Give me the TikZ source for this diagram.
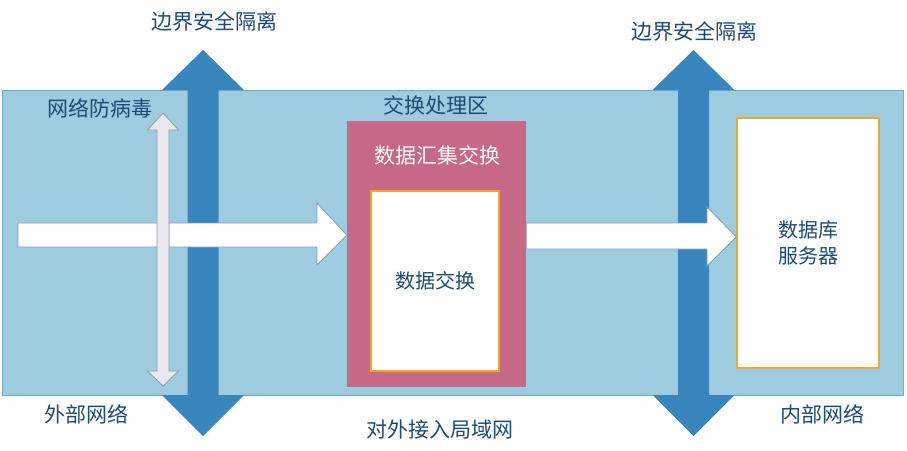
\documentclass[tikz,border=0pt]{standalone}
\usepackage{fontspec}
\setmainfont{Noto Sans CJK SC}
\usepackage{tikz}
\usetikzlibrary{positioning,calc}

\definecolor{zoneblue}{RGB}{157,203,223}
\definecolor{zoneline}{RGB}{118,168,195}
\definecolor{wallblue}{RGB}{56,134,189}
\definecolor{hubpink}{RGB}{199,104,134}
\definecolor{boxorange}{RGB}{240,166,40}
\definecolor{avgray}{RGB}{232,232,238}
\definecolor{avline}{RGB}{150,152,168}
\definecolor{flowline}{RGB}{138,154,176}
\definecolor{txtblue}{RGB}{30,74,120}

\begin{document}
\begin{tikzpicture}[x=1pt,y=-1pt,
lbl/.style={text=txtblue,font=\fontsize{21}{25}\selectfont,inner sep=0pt},
zone/.style={rectangle,fill=zoneblue,draw=zoneline,line width=0.8pt,inner sep=0pt},
hub/.style={rectangle,fill=hubpink,draw=none,inner sep=0pt},
box/.style={rectangle,fill=white,draw=boxorange,line width=1.4pt,inner sep=0pt,
  text=txtblue,font=\fontsize{20}{26}\selectfont,align=center},
wall/.style={fill=wallblue,draw=none},
flow/.style={fill=white,draw=flowline,line width=0.8pt,line join=miter},
avarrow/.style={fill=avgray,draw=avline,line width=0.8pt,line join=miter}]

\useasboundingbox (0,0) rectangle (907,450);

%exchange zone
\node[zone,minimum width=901pt,minimum height=305pt] (zone) at (453,242.5) {};

%boundary isolation arrows
\foreach \cx in {203,693.5}{
\fill[wall] (\cx,50) -- (\cx+41,90) -- (\cx+15.5,90) -- (\cx+15.5,395)
  -- (\cx+41,395) -- (\cx,436) -- (\cx-41,395) -- (\cx-15.5,395)
  -- (\cx-15.5,90) -- (\cx-41,90) -- cycle;
}

%collection box
\node[hub,minimum width=179pt,minimum height=266pt] (hub) at (436.5,254) {};
\node[box,minimum width=128pt,minimum height=180pt] (xchg) at (435,281) {数据交换};
\node[box,minimum width=142pt,minimum height=250pt] (db) at (808,243) {数据库\\服务器};

%inbound flow
\draw[flow] (18,223) -- (317,223) -- (317,203) -- (hub.west |- 0,235)
  -- (317,265) -- (317,247) -- (18,247) -- cycle;

%antivirus
\draw[avarrow] (163,113) -- (178.5,130) -- (169,130) -- (169,371) -- (178.5,371)
  -- (163,386) -- (147.5,371) -- (157,371) -- (157,130) -- (147.5,130) -- cycle;

%outbound flow
\draw[flow] (hub.east |- 0,223) -- (707,223) -- (707,207) -- (db.west |- 0,237)
  -- (707,266) -- (707,249) -- (hub.east |- 0,249) -- cycle;

%labels
\node[lbl] (iso1) at (214,21) {边界安全隔离};
\node[lbl] (iso2) at (694,31) {边界安全隔离};
\node[lbl] (av) at (100,108) {网络防病毒};
\node[lbl] (zonettl) at (436,105) {交换处理区};
\node[lbl,text=white] (hubttl) at (437,155) {数据汇集交换};
\node[lbl] (ext) at (86,414) {外部网络};
\node[lbl] (lan) at (440,430) {对外接入局域网};
\node[lbl] (int) at (822,414) {内部网络};

\end{tikzpicture}
\end{document}
